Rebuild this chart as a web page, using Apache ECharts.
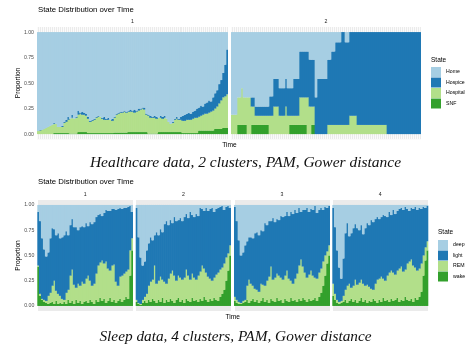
<!DOCTYPE html>
<html>
<head>
<meta charset="utf-8">
<script src="https://cdn.jsdelivr.net/npm/echarts@6/dist/echarts.min.js"></script>
<style>
  html, body { margin: 0; padding: 0; background: #fff; }
  #chart { width: 468px; height: 347px; }
</style>
</head>
<body>
<div id="chart"></div>
<script>
// colours (RColorBrewer "Paired", first four)
const stateColors = ['#A6CEE3', '#1F78B4', '#B2DF8A', '#33A02C']

const hcStates = ['Home', 'Hospice', 'Hospital', 'SNF']
const sleepStates = ['deep', 'light', 'REM', 'wake']
const yTicks = [0, 0.25, 0.5, 0.75, 1]

// healthcare data: upper edge of each band (95 time steps)
const hc1HospiceTop = [
  0.03, 0.04, 0.04, 0.05, 0.06, 0.07, 0.08, 0.09, 0.11, 0.10,
  0.07, 0.07, 0.08, 0.12, 0.14, 0.17, 0.15, 0.19, 0.15, 0.17,
  0.23, 0.21, 0.22, 0.21, 0.20, 0.17, 0.13, 0.14, 0.15, 0.17,
  0.18, 0.17, 0.16, 0.17, 0.15, 0.16, 0.14, 0.15, 0.17, 0.20,
  0.21, 0.22, 0.22, 0.23, 0.22, 0.23, 0.24, 0.23, 0.24, 0.23,
  0.25, 0.25, 0.26, 0.26, 0.20, 0.19, 0.18, 0.17, 0.18, 0.17,
  0.16, 0.18, 0.17, 0.18, 0.15, 0.12, 0.10, 0.12, 0.15, 0.17,
  0.15, 0.17, 0.18, 0.19, 0.20, 0.21, 0.20, 0.22, 0.23, 0.25,
  0.26, 0.28, 0.27, 0.30, 0.31, 0.33, 0.32, 0.36, 0.40, 0.43,
  0.49, 0.53, 0.60, 0.68, 0.83
]
const hc1HospitalTop = [
  0.03, 0.035, 0.04, 0.05, 0.06, 0.07, 0.08, 0.09, 0.10, 0.10,
  0.07, 0.07, 0.07, 0.11, 0.12, 0.14, 0.15, 0.16, 0.15, 0.16,
  0.19, 0.20, 0.19, 0.19, 0.18, 0.15, 0.12, 0.13, 0.14, 0.16,
  0.17, 0.17, 0.15, 0.14, 0.14, 0.14, 0.14, 0.13, 0.16, 0.19,
  0.20, 0.21, 0.21, 0.22, 0.21, 0.22, 0.22, 0.22, 0.21, 0.22,
  0.23, 0.24, 0.25, 0.24, 0.19, 0.18, 0.16, 0.16, 0.16, 0.15,
  0.16, 0.16, 0.15, 0.16, 0.15, 0.12, 0.10, 0.11, 0.14, 0.15,
  0.14, 0.14, 0.13, 0.13, 0.14, 0.14, 0.14, 0.15, 0.16, 0.16,
  0.17, 0.18, 0.19, 0.20, 0.20, 0.21, 0.22, 0.23, 0.25, 0.27,
  0.30, 0.33, 0.36, 0.37, 0.39
]
const hc1SnfTop = [
  0, 0, 0, 0, 0, 0, 0, 0, 0.01, 0.01,
  0.01, 0.01, 0.01, 0.01, 0.01, 0.01, 0.005, 0.005, 0.005, 0.005,
  0.02, 0.02, 0.02, 0.02, 0.02, 0.01, 0.01, 0.01, 0.01, 0.01,
  0.01, 0.01, 0.01, 0.01, 0.01, 0.01, 0.01, 0.01, 0.015, 0.015,
  0.015, 0.015, 0.015, 0.015, 0.015, 0.02, 0.02, 0.02, 0.02, 0.02,
  0.02, 0.02, 0.02, 0.02, 0.02, 0.005, 0.005, 0.005, 0.005, 0.005,
  0.02, 0.02, 0.02, 0.02, 0.02, 0.02, 0.02, 0.02, 0.02, 0.02,
  0.02, 0.02, 0.01, 0.01, 0.01, 0.01, 0.01, 0.01, 0.01, 0.01,
  0.035, 0.035, 0.035, 0.035, 0.035, 0.035, 0.035, 0.035, 0.05, 0.05,
  0.05, 0.05, 0.06, 0.06, 0.06
]

const hc2HospiceTop = [
  0.19, 0.19, 0.19, 0.36, 0.36, 0.45, 0.36, 0.36, 0.36, 0.36,
  0.36, 0.36, 0.27, 0.27, 0.27, 0.27, 0.27, 0.27, 0.27, 0.37,
  0.37, 0.54, 0.54, 0.54, 0.45, 0.45, 0.45, 0.54, 0.45, 0.45,
  0.45, 0.54, 0.54, 0.54, 0.81, 0.81, 0.81, 0.81, 0.81, 0.73,
  0.73, 0.73, 0.36, 0.54, 0.54, 0.54, 0.54, 0.54, 0.73, 0.73,
  0.81, 0.81, 0.90, 0.90, 0.90, 1, 1, 0.90, 0.90, 1,
  1, 1, 1, 1, 1, 1, 1, 1, 1, 1,
  1, 1, 1, 1, 1, 1, 1, 1, 1, 1,
  1, 1, 1, 1, 1, 1, 1, 1, 1, 1,
  1, 1, 1, 1, 1
]
const hc2HospitalTop = [
  0.19, 0.19, 0.19, 0.36, 0.36, 0.45, 0.36, 0.36, 0.36, 0.36,
  0.27, 0.27, 0.18, 0.18, 0.18, 0.18, 0.18, 0.18, 0.18, 0.18,
  0.18, 0.27, 0.27, 0.27, 0.18, 0.18, 0.18, 0.27, 0.18, 0.18,
  0.18, 0.18, 0.18, 0.18, 0.36, 0.36, 0.36, 0.36, 0.36, 0.27,
  0.27, 0.27, 0, 0, 0, 0, 0, 0, 0.09, 0.09,
  0.09, 0.09, 0.09, 0.09, 0.09, 0.09, 0.09, 0.09, 0.09, 0.18,
  0.18, 0.18, 0.18, 0.09, 0.09, 0.09, 0.09, 0.09, 0.09, 0.09,
  0.09, 0.09, 0.09, 0.09, 0.09, 0.09, 0.09, 0.09, 0, 0,
  0, 0, 0, 0, 0, 0, 0, 0, 0, 0,
  0, 0, 0, 0, 0
]
const hc2SnfTop = [
  0, 0, 0, 0.09, 0.09, 0.09, 0.09, 0.09, 0, 0,
  0.09, 0.09, 0.09, 0.09, 0.09, 0.09, 0.09, 0.09, 0.09, 0,
  0, 0, 0, 0, 0, 0, 0, 0, 0, 0.09,
  0.09, 0.09, 0.09, 0.09, 0.09, 0.09, 0.09, 0.09, 0, 0,
  0.09, 0.09, 0, 0, 0, 0, 0, 0, 0, 0,
  0, 0, 0, 0, 0, 0, 0, 0, 0, 0,
  0, 0, 0, 0, 0, 0, 0, 0, 0, 0,
  0, 0, 0, 0, 0, 0, 0, 0, 0, 0,
  0, 0, 0, 0, 0, 0, 0, 0, 0, 0,
  0, 0, 0, 0, 0
]

// sleep data: upper edge of light / REM / wake bands (48 time steps per cluster)
const sl1LightTop = [0.93, 0.84, 0.67, 0.56, 0.49, 0.53, 0.67, 0.77, 0.76, 0.70, 0.72, 0.67, 0.68, 0.70, 0.74, 0.70, 0.80, 0.86, 0.78, 0.78, 0.75, 0.78, 0.79, 0.78, 0.82, 0.79, 0.83, 0.81, 0.83, 0.88, 0.90, 0.91, 0.89, 0.92, 0.95, 0.94, 0.94, 0.96, 0.96, 0.95, 0.96, 0.97, 0.96, 0.97, 0.97, 0.98, 0.99, 0.93]
const sl1RemTop = [0.40, 0.12, 0.07, 0.06, 0.05, 0.10, 0.13, 0.20, 0.25, 0.15, 0.12, 0.10, 0.07, 0.06, 0.13, 0.16, 0.30, 0.36, 0.21, 0.18, 0.22, 0.20, 0.24, 0.22, 0.27, 0.30, 0.25, 0.20, 0.22, 0.32, 0.40, 0.43, 0.45, 0.42, 0.44, 0.37, 0.35, 0.40, 0.41, 0.24, 0.20, 0.29, 0.30, 0.32, 0.34, 0.36, 0.55, 0.67]
const sl1WakeTop = [0.39, 0.10, 0.06, 0.04, 0.03, 0.02, 0.03, 0.04, 0.02, 0.05, 0.02, 0.03, 0.02, 0.04, 0.02, 0.06, 0.03, 0.05, 0.02, 0.06, 0.03, 0.05, 0.02, 0.04, 0.05, 0.03, 0.06, 0.04, 0.02, 0.06, 0.04, 0.08, 0.05, 0.07, 0.03, 0.05, 0.08, 0.04, 0.06, 0.03, 0.05, 0.07, 0.04, 0.06, 0.09, 0.07, 0.30, 0.55]

const sl2LightTop = [0.97, 0.68, 0.48, 0.40, 0.44, 0.55, 0.62, 0.68, 0.65, 0.70, 0.73, 0.70, 0.76, 0.73, 0.81, 0.84, 0.80, 0.85, 0.82, 0.88, 0.84, 0.85, 0.87, 0.84, 0.88, 0.91, 0.87, 0.93, 0.90, 0.88, 0.91, 0.89, 0.97, 0.96, 0.94, 0.97, 0.94, 0.96, 0.97, 0.93, 0.96, 0.97, 0.98, 0.99, 0.95, 0.98, 0.99, 0.97]
const sl2RemTop = [0.06, 0.03, 0.02, 0.06, 0.09, 0.12, 0.20, 0.24, 0.26, 0.40, 0.22, 0.25, 0.29, 0.26, 0.24, 0.22, 0.27, 0.32, 0.35, 0.30, 0.25, 0.30, 0.28, 0.26, 0.28, 0.36, 0.30, 0.26, 0.32, 0.28, 0.26, 0.30, 0.34, 0.40, 0.37, 0.33, 0.29, 0.27, 0.25, 0.28, 0.31, 0.33, 0.36, 0.38, 0.42, 0.48, 0.52, 0.60]
const sl2WakeTop = [0.04, 0.02, 0.01, 0.03, 0.05, 0.03, 0.06, 0.04, 0.07, 0.05, 0.03, 0.06, 0.04, 0.08, 0.03, 0.06, 0.04, 0.07, 0.05, 0.03, 0.06, 0.08, 0.04, 0.06, 0.03, 0.07, 0.05, 0.04, 0.08, 0.05, 0.06, 0.04, 0.07, 0.05, 0.09, 0.06, 0.04, 0.07, 0.05, 0.08, 0.06, 0.05, 0.09, 0.12, 0.16, 0.25, 0.35, 0.50]

const sl3LightTop = [0.98, 0.84, 0.65, 0.50, 0.53, 0.60, 0.64, 0.68, 0.68, 0.67, 0.72, 0.73, 0.70, 0.75, 0.74, 0.82, 0.80, 0.84, 0.84, 0.87, 0.83, 0.86, 0.85, 0.89, 0.88, 0.89, 0.93, 0.89, 0.93, 0.91, 0.95, 0.92, 0.97, 0.93, 0.95, 0.95, 0.97, 0.93, 0.96, 0.95, 0.99, 0.92, 0.95, 0.97, 0.95, 0.98, 0.97, 0.99]
const sl3RemTop = [0.09, 0.06, 0.04, 0.03, 0.05, 0.06, 0.20, 0.26, 0.22, 0.20, 0.17, 0.16, 0.14, 0.22, 0.21, 0.20, 0.25, 0.29, 0.39, 0.26, 0.28, 0.32, 0.30, 0.28, 0.26, 0.30, 0.35, 0.27, 0.25, 0.22, 0.27, 0.32, 0.40, 0.46, 0.39, 0.33, 0.28, 0.31, 0.35, 0.30, 0.28, 0.27, 0.33, 0.37, 0.44, 0.50, 0.54, 0.60]
const sl3WakeTop = [0.05, 0.03, 0.02, 0.02, 0.03, 0.04, 0.06, 0.03, 0.05, 0.07, 0.04, 0.06, 0.03, 0.05, 0.08, 0.04, 0.06, 0.03, 0.07, 0.05, 0.04, 0.08, 0.05, 0.06, 0.03, 0.07, 0.05, 0.04, 0.08, 0.05, 0.06, 0.04, 0.07, 0.05, 0.08, 0.06, 0.04, 0.07, 0.05, 0.06, 0.08, 0.05, 0.09, 0.13, 0.20, 0.30, 0.42, 0.50]

const sl4LightTop = [0.97, 0.78, 0.55, 0.38, 0.27, 0.47, 0.72, 0.82, 0.69, 0.72, 0.77, 0.81, 0.77, 0.75, 0.80, 0.71, 0.77, 0.82, 0.80, 0.85, 0.83, 0.86, 0.88, 0.86, 0.88, 0.90, 0.89, 0.88, 0.93, 0.90, 0.95, 0.91, 0.94, 0.96, 0.97, 0.95, 0.98, 0.96, 0.94, 0.97, 0.96, 0.98, 0.95, 0.97, 0.96, 0.98, 0.97, 0.99]
const sl4RemTop = [0.22, 0.12, 0.06, 0.04, 0.05, 0.10, 0.16, 0.20, 0.22, 0.18, 0.20, 0.26, 0.21, 0.23, 0.26, 0.22, 0.20, 0.21, 0.19, 0.17, 0.16, 0.22, 0.26, 0.27, 0.29, 0.27, 0.25, 0.30, 0.33, 0.35, 0.33, 0.31, 0.35, 0.37, 0.39, 0.34, 0.36, 0.42, 0.44, 0.46, 0.40, 0.38, 0.35, 0.37, 0.42, 0.50, 0.58, 0.64]
const sl4WakeTop = [0.10, 0.06, 0.03, 0.02, 0.03, 0.04, 0.06, 0.03, 0.05, 0.07, 0.04, 0.06, 0.03, 0.05, 0.08, 0.04, 0.06, 0.03, 0.05, 0.04, 0.07, 0.05, 0.03, 0.06, 0.04, 0.08, 0.05, 0.06, 0.04, 0.07, 0.05, 0.06, 0.08, 0.04, 0.06, 0.05, 0.09, 0.06, 0.05, 0.07, 0.04, 0.08, 0.06, 0.09, 0.14, 0.30, 0.45, 0.55]

// time steps (category labels, not drawn)
const hcTimes = hc1HospiceTop.map((_, i) => String(i + 1))
const sleepTimes = sl1LightTop.map((_, i) => String(i + 1))

const sans = 'Liberation Sans, Arial, sans-serif'

const panels = [
  { box: { left: 37, top: 27, width: 191, height: 112.2 }, strip: '1', stripY: 22, tops: [hc1HospiceTop, hc1HospitalTop, hc1SnfTop], states: hcStates, times: hcTimes, yLabels: true, allLines: true },
  { box: { left: 231, top: 27, width: 190, height: 112.2 }, strip: '2', stripY: 22, tops: [hc2HospiceTop, hc2HospitalTop, hc2SnfTop], states: hcStates, times: hcTimes, yLabels: false, allLines: true },
  { box: { left: 37.3, top: 199.9, width: 95.7, height: 111.1 }, strip: '1', stripY: 195, tops: [sl1LightTop, sl1RemTop, sl1WakeTop], states: sleepStates, times: sleepTimes, yLabels: true, allLines: false },
  { box: { left: 135.7, top: 199.9, width: 95.3, height: 111.1 }, strip: '2', stripY: 195, tops: [sl2LightTop, sl2RemTop, sl2WakeTop], states: sleepStates, times: sleepTimes, yLabels: false, allLines: false },
  { box: { left: 234, top: 199.9, width: 96, height: 111.1 }, strip: '3', stripY: 195, tops: [sl3LightTop, sl3RemTop, sl3WakeTop], states: sleepStates, times: sleepTimes, yLabels: false, allLines: false },
  { box: { left: 332.3, top: 199.9, width: 96, height: 111.1 }, strip: '4', stripY: 195, tops: [sl4LightTop, sl4RemTop, sl4WakeTop], states: sleepStates, times: sleepTimes, yLabels: false, allLines: false }
]

// band share = its upper edge minus the edge below it
const share = (upper, lower) => upper.map((v, i) => {
  const d = v - (lower ? lower[i] : 0)
  return d > 0.0005 ? d : null
})

const grid = []
const xAxis = []
const yAxis = []
const series = []
const graphic = []

panels.forEach((p, k) => {
  grid.push({ ...p.box, show: true, backgroundColor: '#EBEBEB', borderWidth: 0, containLabel: false })
  xAxis.push({
    type: 'category', gridIndex: k, data: p.times, boundaryGap: true,
    axisLine: { show: false }, axisTick: { show: false }, axisLabel: { show: false },
    splitLine: {
      show: true,
      interval: p.allLines ? 0 : (idx) => idx === 28,
      lineStyle: { color: '#FFFFFF', width: p.allLines ? 0.8 : 1 }
    }
  })
  yAxis.push({
    type: 'value', gridIndex: k, min: -0.05, max: 1.05,
    axisLine: { show: false }, axisTick: { show: false }, splitLine: { show: false },
    axisLabel: {
      show: p.yLabels, customValues: yTicks, formatter: (v) => v.toFixed(2),
      fontSize: 5.2, color: '#4D4D4D', fontFamily: sans, margin: 3
    }
  })
  const [t0, t1, t2] = p.tops
  const bands = [
    share(t2, null),
    share(t1, t2),
    share(t0, t1),
    t0.map((v) => (1 - v > 0.0005 ? 1 - v : null))
  ]
  // slightly wider than the band so neighbouring bars overlap and leave no seams
  const barW = p.box.width / p.times.length + 0.7
  // bottom band first so the stack builds upwards
  for (let s = 3; s >= 0; s--) {
    series.push({
      name: p.states[s], type: 'bar', xAxisIndex: k, yAxisIndex: k,
      stack: 'p' + k, data: bands[3 - s], barWidth: barW,
      itemStyle: { color: stateColors[s] },
      emphasis: { disabled: true }, animation: false
    })
  }
  graphic.push({
    type: 'text', x: p.box.left + p.box.width / 2, y: p.stripY,
    style: { text: p.strip, fill: '#1A1A1A', fontSize: 5.2, fontFamily: sans, align: 'center', verticalAlign: 'middle' }
  })
})

const label = (text, x, y, size, extra = {}) => ({
  type: 'text', x, y, rotation: extra.rotation || 0,
  style: { text, fill: extra.fill || '#000', fontSize: size, fontFamily: extra.family || sans, fontStyle: extra.fontStyle || 'normal', align: extra.align || 'left', verticalAlign: 'middle' }
})

graphic.push(
  label('State Distribution over Time', 38, 9.5, 7.8),
  label('State Distribution over Time', 38, 181.7, 7.8),
  label('Proportion', 18.5, 83, 6.6, { rotation: Math.PI / 2, align: 'center' }),
  label('Proportion', 18.5, 255.5, 6.6, { rotation: Math.PI / 2, align: 'center' }),
  label('Time', 229.5, 145, 6.6, { align: 'center' }),
  label('Time', 232.7, 317, 6.6, { align: 'center' }),
  label('State', 431, 60.5, 6.5),
  label('State', 438, 232.7, 6.5),
  label('Healthcare data, 2 clusters, PAM, Gower distance', 245.5, 163, 15.5, { family: 'Liberation Serif, serif', fontStyle: 'italic', fill: '#111', align: 'center' }),
  label('Sleep data, 4 clusters, PAM, Gower distance', 235.5, 337, 15.3, { family: 'Liberation Serif, serif', fontStyle: 'italic', fill: '#111', align: 'center' })
)

const legendBase = {
  orient: 'vertical', icon: 'rect', itemWidth: 10, itemHeight: 10, itemGap: 0.5,
  padding: 0, selectedMode: false,
  textStyle: { fontSize: 5.2, color: '#000', fontFamily: sans }
}

const chart = echarts.init(document.getElementById('chart'), null, { renderer: 'canvas' })
chart.setOption({
  animation: false,
  backgroundColor: '#FFFFFF',
  grid, xAxis, yAxis, series, graphic,
  legend: [
    { ...legendBase, left: 431, top: 67, data: hcStates },
    { ...legendBase, left: 438, top: 240, data: sleepStates }
  ]
})
window.addEventListener('resize', () => chart.resize())
</script>
</body>
</html>
